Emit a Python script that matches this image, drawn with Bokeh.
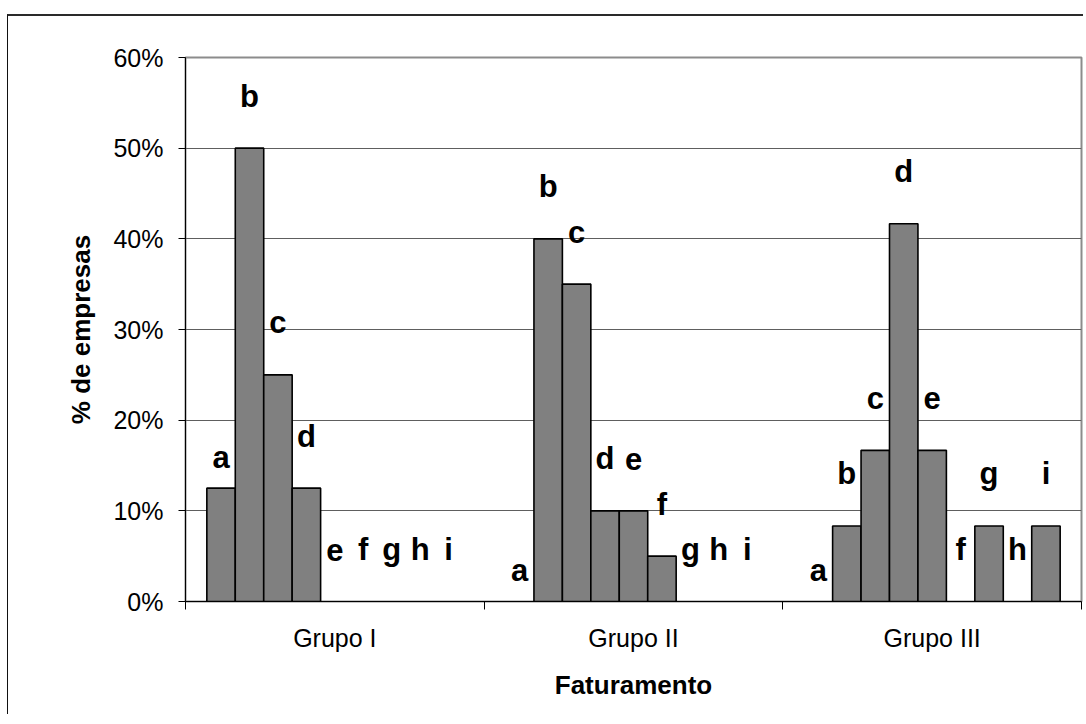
from bokeh.plotting import figure
from bokeh.models import (ColumnDataSource, FixedTicker, PrintfTickFormatter,
                          LabelSet, Range1d)
from bokeh.core.properties import value
from bokeh.embed import file_html
from bokeh.resources import INLINE

# ---- data ----
groups = ["Grupo I", "Grupo II", "Grupo III"]
series = ["a", "b", "c", "d", "e", "f", "g", "h", "i"]
a = [12.5, 0.0, 0.0]
b = [50.0, 40.0, 8.33]
c = [25.0, 35.0, 16.67]
d = [12.5, 10.0, 41.67]
e = [0.0, 10.0, 16.67]
f = [0.0, 5.0, 0.0]
g = [0.0, 0.0, 8.33]
h = [0.0, 0.0, 0.0]
i_ = [0.0, 0.0, 8.33]
values = [a, b, c, d, e, f, g, h, i_]
y_ticks = [0, 10, 20, 30, 40, 50, 60]

FONT = "Liberation Sans"

# ---- geometry derived from data ----
n = len(series)
gap = 1.5
w = 1.0 / (n + gap)

bx, btop, lx, ly, ltxt, loff = [], [], [], [], [], []
for k, s in enumerate(series):
    for gi, grp in enumerate(groups):
        xc = gi + 0.5 + (k - (n - 1) / 2) * w
        v = values[k][gi]
        if v > 0:
            bx.append(xc)
            btop.append(v)
        lx.append(xc)
        ly.append(v)
        ltxt.append(s)
        loff.append(31 if s == "a" else 52)

bars = ColumnDataSource(dict(x=bx, top=btop))
labels = ColumnDataSource(dict(x=lx, y=ly, text=ltxt, yoff=loff))

p = figure(width=1076, height=700, output_backend="svg", toolbar_location=None,
           x_range=Range1d(0, len(groups)), y_range=Range1d(0, 60),
           min_border_left=177, min_border_right=3, min_border_top=41,
           min_border_bottom=115)
p.styles = {"margin-left": "7px", "margin-top": "14px",
            "border-left": "1px solid #111111", "border-top": "2px solid #2a2a2a"}
p.background_fill_color = "white"
p.border_fill_color = "white"
p.outline_line_color = "#8c8c8c"
p.outline_line_width = 2

p.vbar(x="x", top="top", bottom=0, width=w, source=bars,
       fill_color="#808080", line_color="black", line_width=1.6)

p.add_layout(LabelSet(x="x", y="y", text="text", y_offset="yoff", source=labels,
                      text_align="center", text_baseline="middle",
                      text_font=value(FONT), text_font_style="bold",
                      text_font_size="31px", text_color="black"))

# y axis
p.yaxis.ticker = FixedTicker(ticks=y_ticks)
p.yaxis.formatter = PrintfTickFormatter(format="%d%%")
p.yaxis.major_tick_out = 7
p.yaxis.major_tick_in = 0
p.yaxis.minor_tick_out = 0
p.yaxis.minor_tick_in = 0
p.yaxis.major_label_standoff = 15
p.yaxis.major_label_text_font = FONT
p.yaxis.major_label_text_font_size = "25px"
p.yaxis.major_label_text_color = "black"
p.yaxis.axis_line_color = "black"
p.yaxis.major_tick_line_color = "black"
p.yaxis.axis_label = "% de empresas"
p.yaxis.axis_label_text_font = FONT
p.yaxis.axis_label_text_font_style = "bold"
p.yaxis.axis_label_text_font_size = "26px"
p.yaxis.axis_label_text_color = "black"
p.yaxis.axis_label_standoff = 14

# x axis
p.xaxis.ticker = FixedTicker(ticks=[gi + 0.5 for gi in range(len(groups))],
                             minor_ticks=list(range(len(groups) + 1)))
p.xaxis.major_label_overrides = {gi + 0.5: grp for gi, grp in enumerate(groups)}
p.xaxis.major_tick_out = 0
p.xaxis.major_tick_in = 0
p.xaxis.minor_tick_out = 8
p.xaxis.minor_tick_in = 0
p.xaxis.minor_tick_line_color = "black"
p.xaxis.axis_line_color = "black"
p.xaxis.major_label_standoff = 14
p.xaxis.major_label_text_font = FONT
p.xaxis.major_label_text_font_size = "25px"
p.xaxis.major_label_text_color = "black"
p.xaxis.axis_label = "Faturamento"
p.xaxis.axis_label_text_font = FONT
p.xaxis.axis_label_text_font_style = "bold"
p.xaxis.axis_label_text_font_size = "26px"
p.xaxis.axis_label_text_color = "black"
p.xaxis.axis_label_standoff = 15

# grid
p.xgrid.visible = False
p.ygrid.ticker = FixedTicker(ticks=y_ticks)
p.ygrid.grid_line_color = "#5e5e5e"
p.ygrid.grid_line_width = 1

open("out.html", "w").write(file_html(p, INLINE))
